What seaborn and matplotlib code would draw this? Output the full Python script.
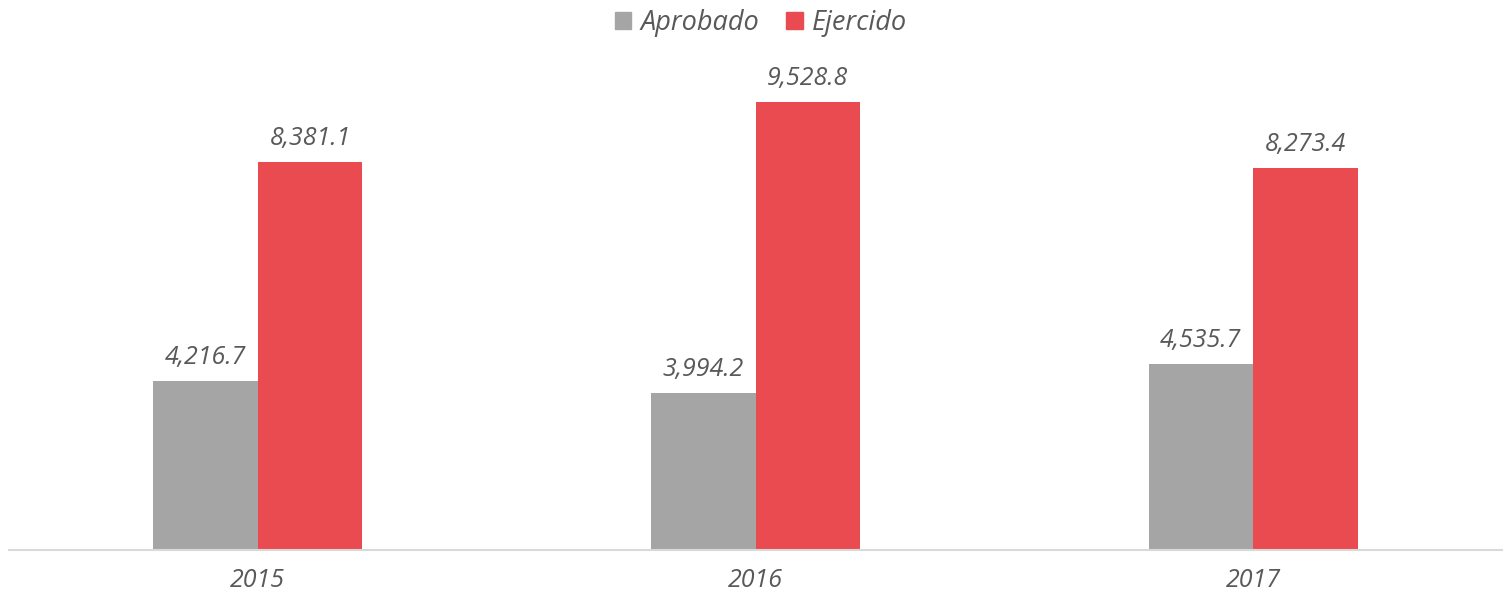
import pandas as pd
import seaborn as sns
import matplotlib.pyplot as plt

years = ["2015", "2016", "2017"]
aprobado = [4216.7, 3994.2, 4535.7]
ejercido = [8381.1, 9528.8, 8273.4]
series = ["Aprobado", "Ejercido"]
colors = ["#A5A5A5", "#E94B51"]

df = pd.DataFrame({
    "year": years * 2,
    "serie": [series[0]] * 3 + [series[1]] * 3,
    "value": aprobado + ejercido,
})

sns.set_style("white")
plt.rcParams["font.family"] = ["Open Sans", "DejaVu Sans"]
text_color = "#595959"

fig = plt.figure(figsize=(15.07, 5.97), dpi=100)
ax = fig.add_axes([9 / 1507, 47 / 597, 1493 / 1507, 473 / 597])

sns.barplot(data=df, x="year", y="value", hue="serie", palette=colors,
            width=0.42, gap=0, saturation=1, linewidth=0, ax=ax, legend=False)

for cont in ax.containers:
    ax.bar_label(cont, labels=[f"{v:,.1f}" for v in cont.datavalues],
                 padding=8, fontsize=18, style="italic", color=text_color)

ax.set_xlim(-0.5, 2.5)
ax.set_ylim(1000, 10000)
ax.set_xlabel("")
ax.set_ylabel("")
ax.set_yticks([])
ax.tick_params(axis="x", length=0, pad=13, labelsize=18, labelcolor=text_color)
for lbl in ax.get_xticklabels():
    lbl.set_style("italic")
for side in ["top", "right", "left"]:
    ax.spines[side].set_visible(False)
ax.spines["bottom"].set_color("#D9D9D9")
ax.spines["bottom"].set_linewidth(1.5)

handles = [plt.Rectangle((0, 0), 1, 1, color=c) for c in colors]
fig.legend(handles, series, loc="center", bbox_to_anchor=(761 / 1507, 1 - 23 / 597),
           ncol=2, frameon=False, handlelength=0.6, handleheight=0.6,
           handletextpad=0.35, columnspacing=1.0,
           prop={"size": 19.5, "style": "italic"}, labelcolor=text_color)

fig.savefig("out.png", dpi=100)
